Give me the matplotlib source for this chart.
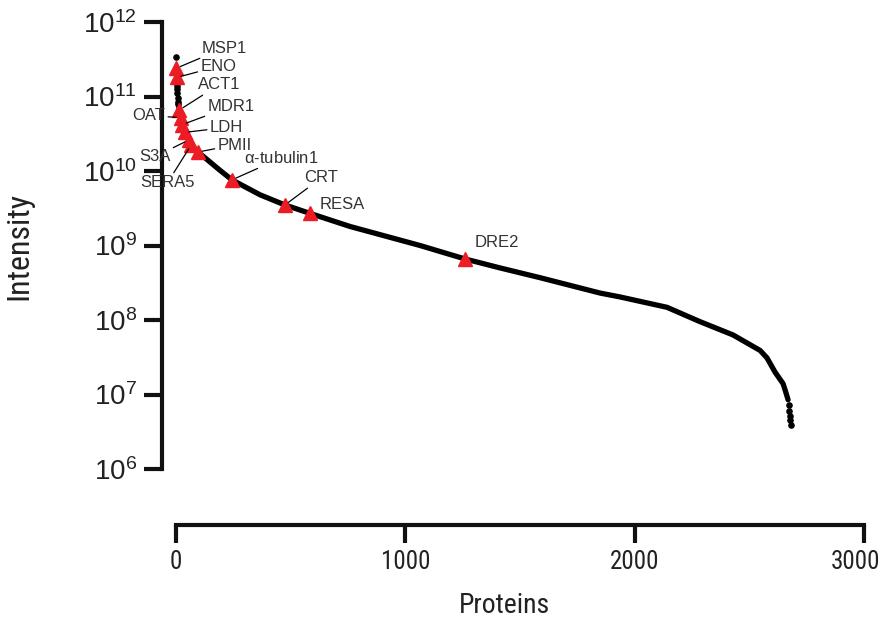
import matplotlib
matplotlib.use('Agg')
import matplotlib.pyplot as plt
from matplotlib.transforms import ScaledTranslation

# rank-ordered protein intensities
curve_rank = [10, 15, 20, 28, 38, 55, 65, 96, 192, 244, 366, 475, 584, 759, 1064,
              1260, 1413, 1587, 1849, 1936, 2141, 2285, 2429, 2547, 2577, 2612,
              2647, 2656, 2669]
curve_int = [8.0e10, 6.6e10, 5.2e10, 4.2e10, 3.3e10, 2.6e10, 2.2e10, 1.8e10, 1.02e10,
             7.6e9, 4.8e9, 3.5e9, 2.7e9, 1.8e9, 1.0e9, 6.6e8, 5.0e8, 3.7e8, 2.3e8,
             2.04e8, 1.48e8, 9.5e7, 6.3e7, 3.9e7, 3.1e7, 2.0e7, 1.4e7, 1.15e7, 8.5e6]

# sparse single proteins at both ends of the curve
dot_rank = [0, 4, 5, 6, 7, 8, 9, 2672, 2674, 2676, 2678, 2680]
dot_int = [3.4e11, 1.4e11, 1.25e11, 1.1e11, 9.5e10, 8.5e10, 8.0e10,
           7.2e6, 6.0e6, 5.2e6, 4.5e6, 3.9e6]

# highlighted proteins
names = ['MSP1', 'ENO', 'ACT1', 'OAT', 'MDR1', 'LDH', 'S3A', 'SERA5', 'PMII',
         r'$\mathregular{\alpha}$-tubulin1', 'CRT', 'RESA', 'DRE2']
hl_rank = [2, 3, 15, 20, 28, 38, 55, 65, 96, 244, 475, 584, 1260]
hl_int = [2.4e11, 1.8e11, 6.6e10, 5.2e10, 4.2e10, 3.3e10, 2.6e10, 2.2e10, 1.8e10,
          7.6e9, 3.5e9, 2.7e9, 6.6e8]

# label offsets in points, alignment, and whether a leader line is drawn
offsets = [(18, 14.5), (17, 8), (13, 18), (-11, 1.5), (18, 13), (18, 3.5), (-13, -12),
           (-17, -27), (14, 5), (9, 16), (14, 19.5), (7, 6.5), (7, 12)]
aligns = ['left', 'left', 'left', 'right', 'left', 'left', 'right',
          'center', 'left', 'left', 'left', 'left', 'left']
leader = [True] * 11 + [False, False]

reg_font = ['Liberation Sans', 'DejaVu Sans']
narrow_font = ['Roboto Condensed', 'Archivo Narrow', 'Liberation Sans', 'DejaVu Sans']

fig = plt.figure(figsize=(8.85, 6.22), dpi=100)
ax = fig.add_axes([176 / 885, 1 - 469 / 622, 688 / 885, 447 / 622])

ax.plot(curve_rank, curve_int, color='black', lw=3.8, solid_capstyle='round',
        solid_joinstyle='round', zorder=2)
ax.scatter(dot_rank, dot_int, s=14, color='black', zorder=2, clip_on=False)
ax.plot(hl_rank, hl_int, ls='none', marker='^', ms=10, color='#ec1c24',
        zorder=3, clip_on=False)

for name, x, y, off, ha, ln in zip(names, hl_rank, hl_int, offsets, aligns, leader):
    props = dict(arrowstyle='-', color='black', lw=0.9, shrinkA=0, shrinkB=3) if ln else None
    ax.annotate(name, xy=(x, y), xytext=off, textcoords='offset points',
                ha=ha, va='center', fontsize=12, color='#333333',
                family=reg_font, arrowprops=props)

ax.set_yscale('log')
ax.set_xlim(0, 3000)
ax.set_ylim(1e6, 1e12)
ax.set_xticks([0, 1000, 2000, 3000])
ax.set_yticks([1e6, 1e7, 1e8, 1e9, 1e10, 1e11, 1e12])
ax.minorticks_off()

for s in ['top', 'right']:
    ax.spines[s].set_visible(False)
ax.spines['left'].set_position(('outward', 10))
ax.spines['bottom'].set_position(('outward', 40))
ax.spines['left'].set_bounds(1e6, 1e12)
ax.spines['bottom'].set_bounds(0, 3000)
for s in ['left', 'bottom']:
    ax.spines[s].set_linewidth(3)
    ax.spines[s].set_color('#111111')
    ax.spines[s].set_capstyle('projecting')
ax.tick_params(width=3, length=13, color='#111111', pad=5)
ax.tick_params(axis='y', labelsize=20)
ax.tick_params(axis='x', labelsize=18)

for lbl in ax.get_yticklabels():
    lbl.set_family(reg_font)
    lbl.set_color('#222222')
for lbl in ax.get_xticklabels():
    lbl.set_family(narrow_font)
    lbl.set_color('#222222')
# the last label sits against the figure edge
last = ax.get_xticklabels()[-1]
last.set_transform(last.get_transform() + ScaledTranslation(-8 / 100, 0, fig.dpi_scale_trans))

ax.set_xlabel('Proteins', fontsize=20, family=narrow_font, color='#222222', labelpad=13)
ax.xaxis.label.set_x(0.478)
ax.set_ylabel('Intensity', fontsize=23, family=narrow_font, color='#222222', labelpad=36)

fig.savefig('out.png', dpi=100)
